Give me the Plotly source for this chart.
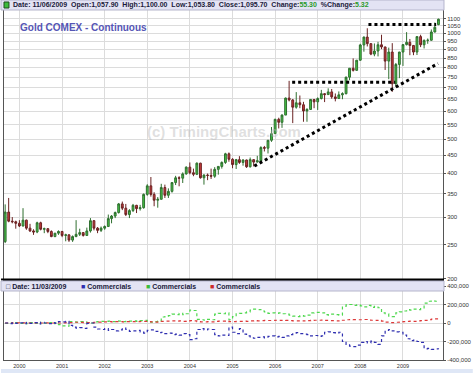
import pandas as pd
import plotly.graph_objects as go

# ---------------- data ----------------
months = pd.date_range("1999-09-01", periods=123, freq="MS")

opens = [255.5, 310, 292, 291,
         288, 283, 294, 279, 274, 272, 289, 277, 278, 273, 264, 270,
         273, 266, 267, 258, 264, 268, 271, 266, 274, 293, 279, 275,
         279, 282, 297, 302, 309, 327, 318, 305, 313, 324, 317, 319,
         348, 368, 348, 335, 337, 364, 346, 355, 376, 388, 387, 398,
         416, 401, 397, 427, 388, 395, 394, 392, 410, 418, 429, 454,
         438, 423, 437, 429, 436, 417, 437, 430, 434, 473, 471, 496,
         518, 569, 558, 585, 654, 646, 616, 634, 626, 601, 607, 648,
         638, 652, 673, 669, 681, 659, 652, 668, 673, 750, 795, 784,
         838, 926, 975, 934, 872, 890, 927, 914, 833, 884, 718, 815,
         884, 928, 942, 923, 884, 978, 927, 954, 955, 1008, 1057.9]
highs = [326, 340, 300, 293,
         294, 318, 295, 287, 277, 291, 291, 280, 279, 275, 270, 275,
         274, 269, 268, 266, 294, 278, 272, 280, 298, 294, 281, 282,
         284, 305, 304, 311, 329, 332, 327, 316, 327, 325, 325, 350,
         372, 390, 353, 342, 373, 371, 362, 377, 393, 392, 402, 418,
         429, 412, 429, 428, 397, 399, 412, 416, 418, 432, 457, 458,
         441, 439, 447, 438, 437, 443, 438, 448, 477, 478, 497, 541,
         571, 575, 588, 656, 732, 650, 680, 665, 638, 612, 650, 650,
         657, 690, 675, 697, 694, 674, 683, 679, 752, 795, 848, 838,
         933, 978, 1033, 935, 935, 945, 990, 915, 910, 937, 823, 885,
         931, 1007, 963, 924, 980, 990, 960, 966, 1025, 1072, 1100]
lows = [253, 290, 288, 278,
        281, 282, 276, 272, 267, 270, 275, 270, 270, 263, 263, 267,
        263, 256, 255, 255, 263, 265, 264, 265, 271, 275, 270, 272,
        276, 282, 288, 298, 307, 314, 302, 298, 310, 308, 313, 317,
        345, 343, 322, 319, 337, 340, 340, 352, 370, 367, 375, 396,
        397, 392, 395, 386, 371, 382, 385, 388, 396, 412, 425, 431,
        413, 411, 425, 420, 414, 415, 418, 429, 434, 461, 455, 491,
        518, 536, 538, 585, 640, 555, 610, 612, 560, 560, 605, 612,
        605, 648, 637, 668, 651, 640, 651, 649, 670, 735, 778, 783,
        835, 886, 917, 866, 860, 859, 901, 786, 740, 681, 705, 745,
        807, 923, 866, 866, 867, 913, 905, 933, 952, 1005, 1053.8]
closes = [310, 292, 291, 288,
          283, 294, 279, 274, 272, 289, 277, 278, 273, 264, 270, 273,
          266, 267, 258, 264, 268, 271, 266, 274, 293, 279, 275, 279,
          282, 297, 302, 309, 327, 318, 305, 313, 324, 317, 319, 348,
          368, 348, 335, 337, 364, 346, 355, 376, 388, 387, 398, 416,
          401, 397, 427, 388, 395, 394, 392, 410, 418, 429, 454, 438,
          423, 437, 429, 436, 417, 437, 430, 434, 473, 471, 496, 518,
          569, 558, 585, 654, 646, 616, 634, 626, 601, 607, 648, 638,
          652, 673, 669, 681, 659, 652, 668, 673, 750, 795, 784, 838,
          926, 975, 934, 872, 890, 927, 914, 833, 884, 718, 815, 884,
          928, 942, 923, 884, 978, 927, 954, 955, 1008, 1040, 1095.7]

# Commitment of traders (thousands of contracts)
comm_blue = [0, -6, 4, -5,
             2, -8, 4, -4, 3, -10, 6, 0, -6, 5, -3, 15,
             12, 18, -25, -45, -55, -50, -58, -5, 0, -45, -65, -70,
             -60, -80, -70, -85, -75, -55, -70, -90, -85, -80, -95, -110,
             -80, -75, -90, -105, -100, -115, -110, -125, -120, -130, -115, -125,
             -180, -170, -70, -60, -75, -65, -70, -125, -140, -130, -135, -45,
             -100, -115, -60, -120, -140, -160, -165, -155, -150, -160, -145, -140,
             -150, -145, -155, -140, -125, -110, -105, -115, -120, -125, -140, -135,
             -145, -140, -100, -95, -105, -110, -100, -200, -230, -250, -255, -240,
             -210, -200, -215, -195, -210, -230, -140, -80, -70, -85, -95, -100,
             -130, -170, -190, -185, -200, -210, -280, -275, -285, -280, -285]
comm_green = [-3, 2, -5, 3,
              -4, 6, -6, 3, -5, 8, -8, -2, 5, -6, 2, -18,
              -30, -35, 15, 12, 10, 15, 12, 3, 0, 12, 15, 18,
              18, 20, 15, 22, 20, 15, 18, 20, 22, 18, 25, 28,
              12, 10, 15, 20, 65, 75, 80, 95, 90, 105, 90, 100,
              140, 135, 40, 35, 30, 40, 35, 95, 105, 100, 110, 35,
              70, 100, 105, 110, 120, 140, 150, 145, 130, 120, 105, 110,
              105, 110, 100, 95, 85, 75, 70, 80, 75, 85, 110, 115,
              115, 110, 90, 85, 95, 90, 85, 180, 195, 200, 190, 195,
              185, 175, 190, 170, 180, 165, 110, 100, 75, 70, 110, 120,
              130, 145, 140, 150, 145, 155, 215, 235, 240, 235, 238]
comm_red = [0, 2, 0, 1,
            0, 1, 0, 0, 1, 0, 0, 1, 0, 0, 1, 0,
            2, 3, 5, 8, 8, 6, 5, 4, 5, 8, 10, 12,
            12, 14, 12, 15, 16, 12, 14, 15, 15, 14, 16, 18,
            15, 12, 10, 12, 18, 20, 20, 22, 20, 22, 18, 20,
            25, 22, 15, 12, 12, 14, 13, 18, 20, 20, 22, 15,
            15, 18, 18, 20, 18, 22, 25, 24, 25, 28, 27, 28,
            30, 28, 30, 28, 25, 22, 22, 24, 22, 25, 28, 30,
            30, 32, 28, 26, 25, 24, 22, 30, 35, 38, 36, 35,
            35, 38, 32, 30, 28, 30, 20, 10, 5, 5, 8, 12,
            15, 18, 20, 18, 22, 25, 28, 35, 42, 45, 45]

# dotted trend lines (date, price)
trend_top_x = ["2008-03-11", "2009-10-12"]
trend_top_y = [1058, 1058]
trend_mid_x = ["2006-05-27", "2008-10-27"]
trend_mid_y = [725, 725]
trend_diag_x = ["2005-07-07", "2009-10-28"]
trend_diag_y = [419, 820]

price_ticks = [200, 250, 300, 350, 400, 450, 500, 550, 600, 650, 700,
               750, 800, 850, 900, 950, 1000, 1050, 1100]
cot_ticks = [-400, -200, 0, 200, 400]
cot_labels = ["-400,000", "-200,000", "0", "200,000", "400,000"]

# ---------------- layout helpers ----------------
W, H = 475, 373
L, R, T, B = 3, 30, 10, 13
PW, PH = W - L - R, H - T - B


def px(x):
    return (x - L) / PW


def py(y):
    return (H - B - y) / PH


FONT = "Liberation Sans, Arial, sans-serif"
GRID = "#dcdcdc"

fig = go.Figure()

fig.add_trace(go.Candlestick(
    x=months, open=opens, high=highs, low=lows, close=closes,
    xaxis="x", yaxis="y",
    increasing=dict(fillcolor="#44c444", line=dict(color="#2f6f2f", width=1)),
    decreasing=dict(fillcolor="#c83a3a", line=dict(color="#6a2222", width=1)),
    hoverinfo="skip", showlegend=False,
))

for tx, ty in [(trend_top_x, trend_top_y), (trend_mid_x, trend_mid_y),
               (trend_diag_x, trend_diag_y)]:
    fig.add_trace(go.Scatter(
        x=tx, y=ty, mode="lines", xaxis="x", yaxis="y",
        line=dict(color="black", width=3, dash="dot"),
        hoverinfo="skip", showlegend=False,
    ))

for vals, col in [(comm_green, "#4fd84f"), (comm_red, "#dd3a3a"),
                  (comm_blue, "#2f2fb0")]:
    fig.add_trace(go.Scatter(
        x=months, y=vals, mode="lines", xaxis="x2", yaxis="y2",
        line=dict(color=col, width=1.2, dash="dot", shape="hv"),
        hoverinfo="skip", showlegend=False,
    ))

xrange = ["1999-08-22", "2009-12-10"]
year_ticks = pd.date_range("2000-01-01", "2009-01-01", freq="YS")

fig.update_layout(
    width=W, height=H,
    margin=dict(l=L, r=R, t=T, b=B, pad=0),
    paper_bgcolor="white", plot_bgcolor="white",
    showlegend=False, hovermode=False, boxgap=0.2,
    font=dict(family=FONT, size=6, color="#333"),
    xaxis=dict(
        domain=[0, 1], anchor="y", range=xrange, type="date",
        rangeslider=dict(visible=False),
        tickvals=year_ticks, showticklabels=False, ticks="",
        showgrid=True, gridcolor=GRID, gridwidth=1,
        showline=True, linecolor="black", linewidth=2, zeroline=False,
    ),
    yaxis=dict(
        domain=[py(279), 1], anchor="x", side="right", type="log",
        range=[2.301, 3.066],
        tickvals=price_ticks, ticktext=[str(v) for v in price_ticks],
        ticks="outside", ticklen=2, tickcolor="#555",
        tickfont=dict(size=6, color="#333"),
        showgrid=True, gridcolor=GRID, gridwidth=1,
        showline=True, linecolor="#555", linewidth=1, mirror=True,
        zeroline=False,
    ),
    xaxis2=dict(
        domain=[0, 1], anchor="y2", range=xrange, type="date",
        matches="x",
        tickvals=year_ticks, tickformat="%Y", ticks="",
        tickfont=dict(size=5.5, color="#333"),
        showgrid=True, gridcolor=GRID, gridwidth=1,
        showline=True, linecolor="#555", linewidth=1, mirror=True,
        zeroline=False,
    ),
    yaxis2=dict(
        domain=[0, py(286)], anchor="x2", side="right",
        range=[-400, 400],
        tickvals=cot_ticks, ticktext=cot_labels,
        ticks="outside", ticklen=2, tickcolor="#555",
        tickfont=dict(size=6, color="#333"),
        showgrid=True, gridcolor=GRID, gridwidth=1,
        showline=True, linecolor="#555", linewidth=1, mirror=True,
        zeroline=False,
    ),
)

shapes = [
    # top info bar
    dict(type="rect", xref="paper", yref="paper", x0=px(0), x1=px(446),
         y0=py(10), y1=py(0), fillcolor="#e3e3f4",
         line=dict(color="#b5b5cc", width=1), layer="above"),
    dict(type="rect", xref="paper", yref="paper", x0=px(3), x1=px(8),
         y0=py(8), y1=py(2), fillcolor="#3cbc3c",
         line=dict(color="#1f4f1f", width=1), layer="above"),
    # separator between panels
    dict(type="line", xref="paper", yref="paper", x0=px(0), x1=px(446),
         y0=py(279.5), y1=py(279.5), line=dict(color="black", width=2),
         layer="above"),
    # lower info bar
    dict(type="rect", xref="paper", yref="paper", x0=px(0), x1=px(446),
         y0=py(291), y1=py(281), fillcolor="#e3e3f4",
         line=dict(color="#b5b5cc", width=1), layer="above"),
    # bottom strip
    dict(type="rect", xref="paper", yref="paper", x0=px(0), x1=px(475),
         y0=py(373), y1=py(369), fillcolor="#dfe7f6",
         line=dict(width=0), layer="below"),
]
fig.update_layout(shapes=shapes)

G = "#2a9a2a"
header = ("<b>Date: 11/06/2009  Open:1,057.90  High:1,100.00  Low:1,053.80  "
          "Close:1,095.70  Change:<span style='color:%s'>55.30</span>  "
          "%%Change:<span style='color:%s'>5.32</span></b>" % (G, G))

ann = [
    dict(text=header, x=px(10), y=py(5), xanchor="left", yanchor="middle",
         font=dict(size=7, color="#1a1a3a")),
    dict(text="<b>Gold COMEX - Continuous</b>", x=px(17), y=py(27),
         xanchor="left", yanchor="middle",
         font=dict(size=10, color="#5555b5")),
    dict(text="<b>(c) TimingCharts.com</b>", x=px(224), y=py(131),
         xanchor="center", yanchor="middle",
         font=dict(size=15, color="rgba(185,185,185,0.45)")),
    dict(text="<b>□ Date: 11/03/2009</b>", x=px(3), y=py(286),
         xanchor="left", yanchor="middle", font=dict(size=7, color="#1a1a3a")),
    dict(text="<b><span style='color:#2f2fb0'>■</span> Commercials</b>",
         x=px(79), y=py(286), xanchor="left", yanchor="middle",
         font=dict(size=7, color="#1a1a3a")),
    dict(text="<b><span style='color:#3cbc3c'>■</span> Commercials</b>",
         x=px(144), y=py(286), xanchor="left", yanchor="middle",
         font=dict(size=7, color="#1a1a3a")),
    dict(text="<b><span style='color:#cc2a2a'>■</span> Commercials</b>",
         x=px(208), y=py(286), xanchor="left", yanchor="middle",
         font=dict(size=7, color="#1a1a3a")),
]
for a in ann:
    a.update(xref="paper", yref="paper", showarrow=False)
fig.update_layout(annotations=ann)

fig.write_html(
    "out.html",
    config={"displayModeBar": False, "staticPlot": True},
    post_script="document.body.style.margin='0';"
                "document.body.style.overflow='hidden';",
)
